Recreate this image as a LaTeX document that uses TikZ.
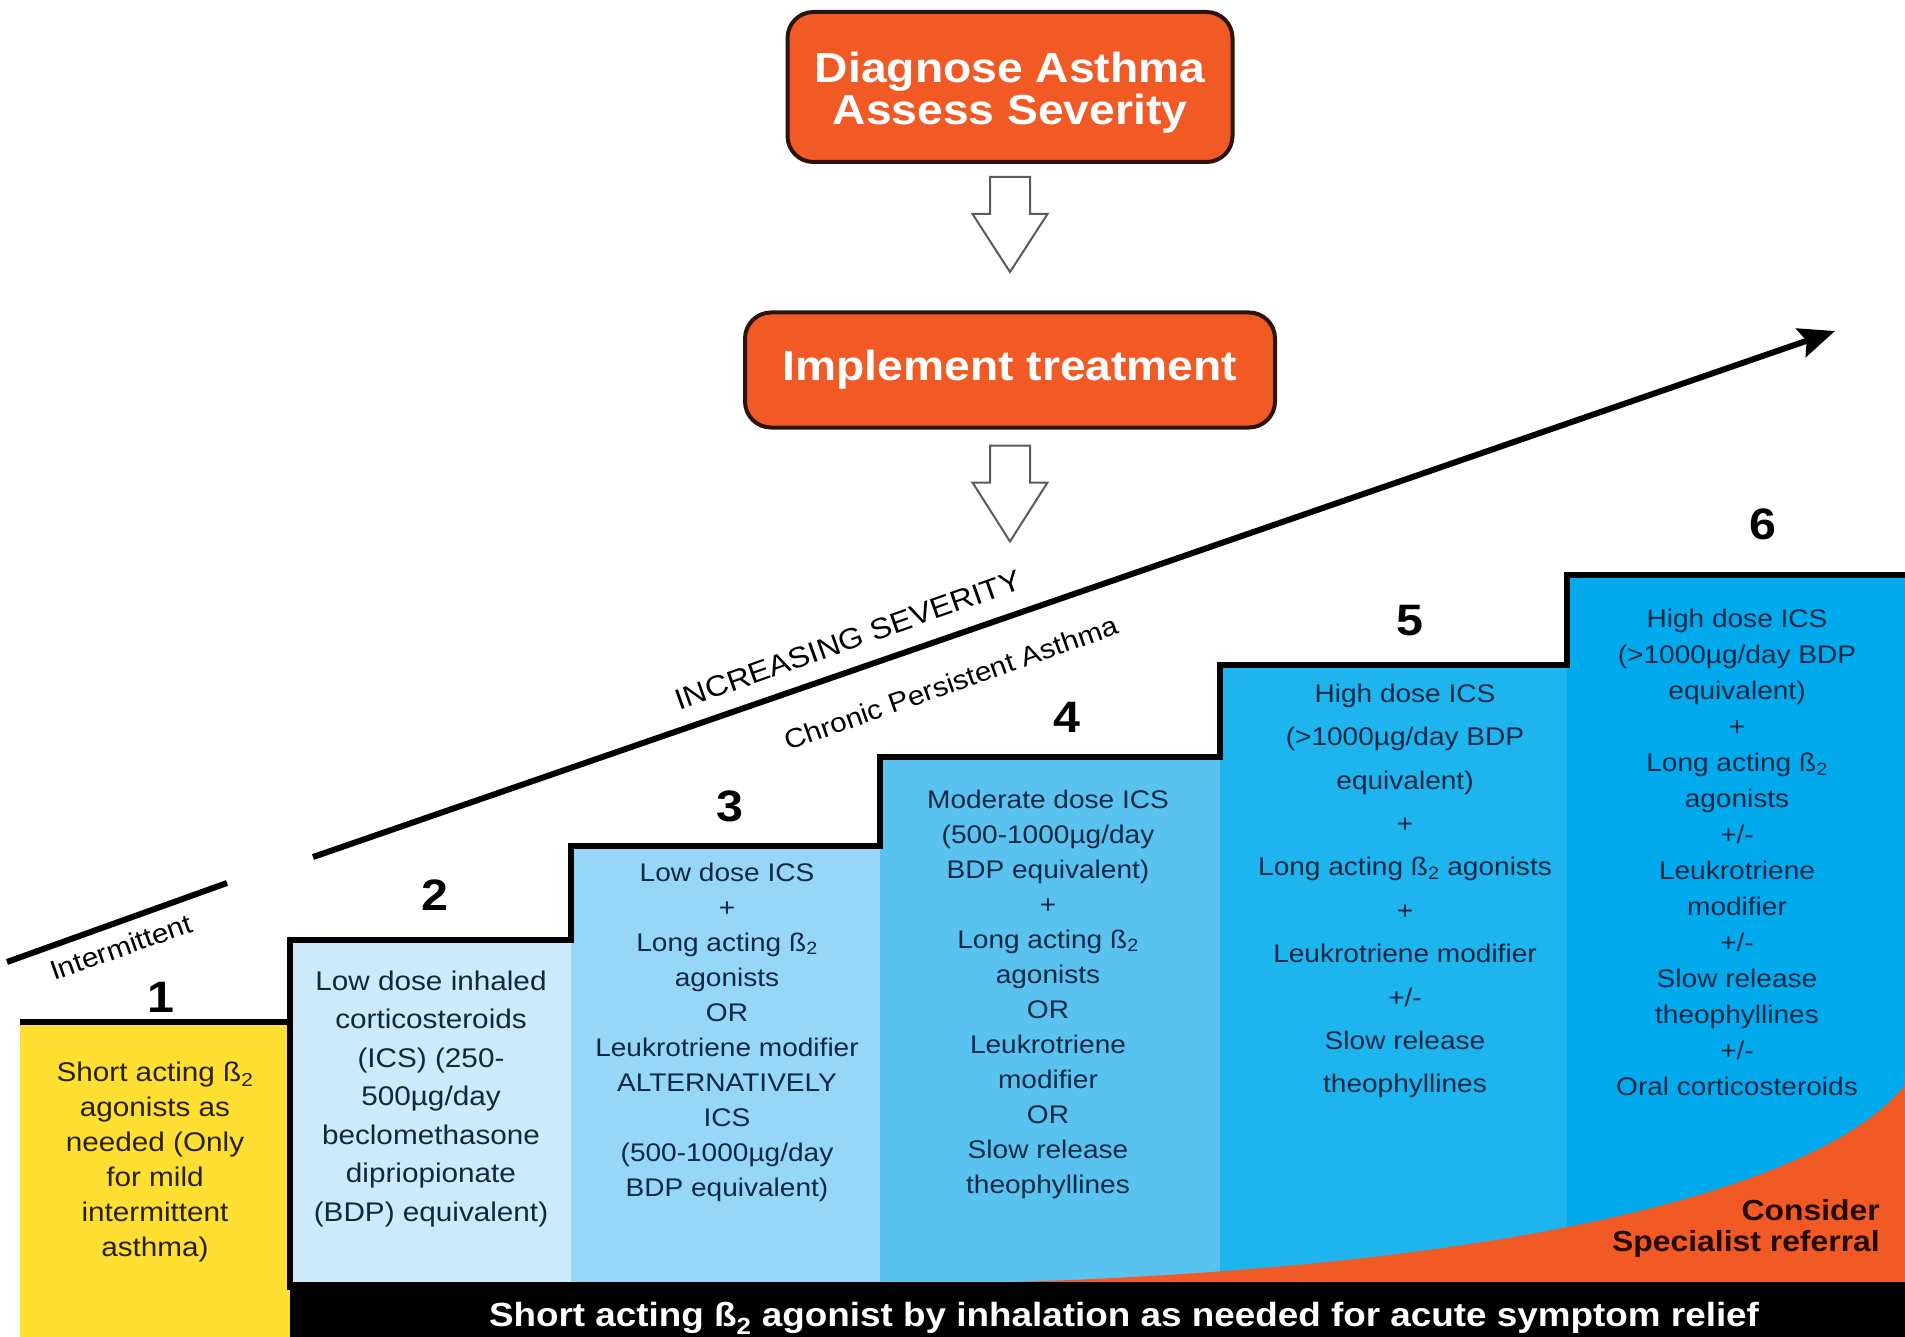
\documentclass[tikz,border=0pt]{standalone}
\usepackage{fontspec}
\setmainfont[FakeStretch=1.1]{Liberation Sans}
\usetikzlibrary{arrows.meta,calc}
\definecolor{orng}{RGB}{241,90,36}
\definecolor{boxedge}{RGB}{45,20,10}
\definecolor{yel}{RGB}{255,224,50}
\definecolor{cA}{RGB}{206,233,250}
\definecolor{cB}{RGB}{150,214,246}
\definecolor{cC}{RGB}{90,194,238}
\definecolor{cD}{RGB}{30,181,238}
\definecolor{cE}{RGB}{0,170,236}
\definecolor{navy}{RGB}{12,40,68}
\definecolor{darkyel}{RGB}{40,32,5}
\definecolor{darkbr}{RGB}{35,10,0}
\definecolor{arrgray}{RGB}{90,90,90}
\newcommand{\betatwo}{ß\textsubscript{2}}
\begin{document}
\begin{tikzpicture}[x=1pt,y=-1pt,
  obox/.style={draw=boxedge, line width=4pt, fill=orng, rounded corners=26pt},
  otext/.style={text=white, align=center, inner sep=0pt, font=\bfseries\fontsize{42}{42}\selectfont},
  hollow/.style={draw=arrgray, line width=2pt, fill=white, line join=miter},
  stair/.style={draw=black, line width=6pt, line join=miter},
  sevline/.style={draw=black, line width=6pt},
  num/.style={font=\bfseries\fontsize{44}{44}\selectfont, text=black, inner sep=0pt},
  cell/.style={align=center, text=navy, inner sep=0pt},
  slant/.style={rotate=19.5, inner sep=0pt, text=black}
]
\useasboundingbox (0,0) rectangle (1905,1337);
% cell fills
\fill[yel] (20,1022) rectangle (290,1337);
\fill[cA] (290,940) rectangle (571,1282);
\fill[cB] (571,846) rectangle (880,1282);
\fill[cC] (880,757) rectangle (1220,1282);
\fill[cD] (1220,665) rectangle (1567,1282);
\fill[cE] (1567,575) rectangle (1905,1282);
\fill[orng] (1015,1282) .. controls (1550,1265) and (1830,1180) .. (1905,1085) -- (1905,1282) -- cycle;
\fill[black] (290,1282) rectangle (1905,1337);
% staircase outline
\draw[stair] (20,1022) -| (290,940) -| (571,846) -| (880,757) -| (1220,665) -| (1567,575) -- (1905,575);
\draw[stair] (290,937) -- (290,1290);
% top boxes
\node[obox, minimum width=445, minimum height=150] (diag) at (1010,87) {};
\node[otext] (diagtxt) at ($(diag.center)+(0,6)$) {Diagnose Asthma\\Assess Severity};
\node[obox, minimum width=530, minimum height=115] (impl) at (1010,370) {};
\node[otext] (impltxt) at ($(impl.center)+(0,0)$) {Implement treatment};
% hollow arrows
\draw[hollow, shift={(diag.south)}] (-20,13) -- (20,13) -- (20,50) -- (37.5,50) -- (0,108) -- (-37.5,50) -- (-20,50) -- cycle;
\draw[hollow, shift={(impl.south)}] (-20,16) -- (20,16) -- (20,53) -- (37.5,53) -- (0,112) -- (-37.5,53) -- (-20,53) -- cycle;
% severity lines
\coordinate (sevA) at (313,857);
\coordinate (sevB) at (1835,331);
\draw[sevline, -{Stealth[length=36pt,width=30pt,inset=6pt]}] (sevA) -- (sevB);
\coordinate (intA) at (7,962);
\coordinate (intB) at (227,883);
\draw[sevline] (intA) -- (intB);
\node[slant, font=\fontsize{29}{29}\selectfont] (incsev) at (848,640) {INCREASING SEVERITY};
\node[slant, font=\fontsize{27}{27}\selectfont] (chronic) at (951,683) {Chronic Persistent Asthma};
\node[slant, font=\fontsize{27}{27}\selectfont] (interm) at (121,947) {Intermittent};
% step numbers
\node[num] (n1) at (161,997) {1};
\node[num] (n2) at (435,895) {2};
\node[num] (n3) at (730,806) {3};
\node[num] (n4) at (1067,717) {4};
\node[num] (n5) at (1410,621) {5};
\node[num] (n6) at (1763,524) {6};
% cell texts
\node[cell, text=darkyel, font=\fontsize{27}{35}\selectfont] (t1) at (155,1162)
  {Short acting \betatwo\\agonists as\\needed (Only\\for mild\\intermittent\\asthma)};
\node[cell, font=\fontsize{27}{38.5}\selectfont] (t2) at (431,1099)
  {Low dose inhaled\\corticosteroids\\(ICS) (250-\\500µg/day\\beclomethasone\\dipriopionate\\(BDP) equivalent)};
\node[cell, font=\fontsize{25.5}{35}\selectfont] (t3) at (727,1032)
  {Low dose ICS\\+\\Long acting \betatwo\\agonists\\OR\\Leukrotriene modifier\\ALTERNATIVELY\\ICS\\(500-1000µg/day\\BDP equivalent)};
\node[cell, font=\fontsize{25.5}{35}\selectfont] (t4) at (1048,994)
  {Moderate dose ICS\\(500-1000µg/day\\BDP equivalent)\\+\\Long acting \betatwo\\agonists\\OR\\Leukrotriene\\modifier\\OR\\Slow release\\theophyllines};
\node[cell, font=\fontsize{25.5}{43.4}\selectfont] (t5) at (1405,891)
  {High dose ICS\\(>1000µg/day BDP\\equivalent)\\+\\Long acting \betatwo{} agonists\\+\\Leukrotriene modifier\\+/-\\Slow release\\theophyllines};
\node[cell, font=\fontsize{25.5}{36}\selectfont] (t6) at (1737,852)
  {High dose ICS\\(>1000µg/day BDP\\equivalent)\\+\\Long acting \betatwo\\agonists\\+/-\\Leukrotriene\\modifier\\+/-\\Slow release\\theophyllines\\+/-\\Oral corticosteroids};
% referral and bottom bar
\node[anchor=east, align=right, text=darkbr, inner sep=0pt,
  font=\bfseries\fontsize{29}{31}\selectfont] (ref) at (1880,1228) {Consider\\Specialist referral};
\node[text=white, inner sep=0pt, font=\bfseries\fontsize{33.5}{33.5}\selectfont] (bar) at (1124,1318)
  {Short acting \betatwo{} agonist by inhalation as needed for acute symptom relief};
\end{tikzpicture}
\end{document}
